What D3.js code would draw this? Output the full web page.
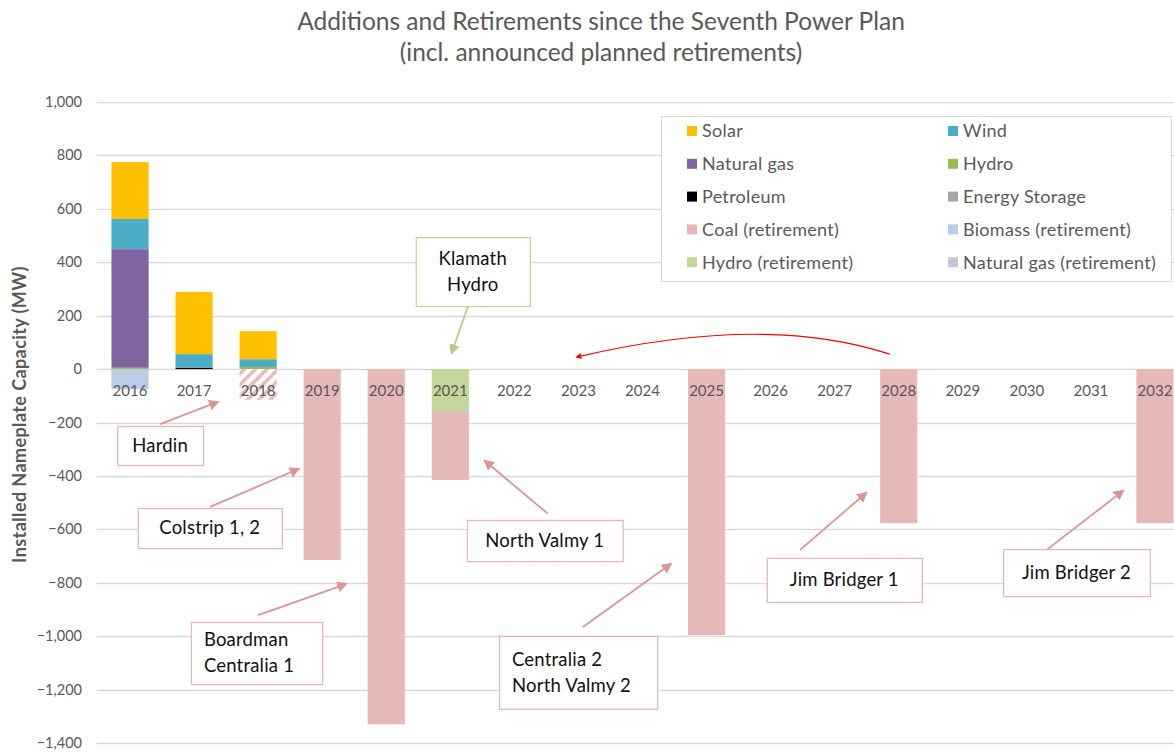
<!DOCTYPE html>
<html>
<head>
<meta charset="utf-8">
<script src="https://cdn.jsdelivr.net/npm/d3@7"></script>
<style>
  body { margin: 0; background: #fff; }
  svg { display: block; font-family: Lato, "Open Sans", sans-serif; }
</style>
</head>
<body>
<div id="chart"></div>
<script>
// years on the x axis
var years = ["2016","2017","2018","2019","2020","2021","2022","2023","2024","2025","2026","2027","2028","2029","2030","2031","2032"];

// additions (MW)
var solar         = [213, 233, 105, 0, 0, 0, 0, 0, 0, 0, 0, 0, 0, 0, 0, 0, 0];
var wind          = [113, 51, 29, 0, 0, 0, 0, 0, 0, 0, 0, 0, 0, 0, 0, 0, 0];
var naturalGas    = [444, 0, 0, 0, 0, 0, 0, 0, 0, 0, 0, 0, 0, 0, 0, 0, 0];
var hydro         = [5, 0, 8, 0, 0, 0, 0, 0, 0, 0, 0, 0, 0, 0, 0, 0, 0];
var petroleum     = [0, 5, 0, 0, 0, 0, 0, 0, 0, 0, 0, 0, 0, 0, 0, 0, 0];
var energyStorage = [0, 0, 0, 0, 0, 0, 0, 0, 0, 0, 0, 0, 0, 0, 0, 0, 0];

// retirements (MW, negative)
var coalRet       = [0, 0, -115, -715, -1330, -254, 0, 0, 0, -996, 0, 0, -577, 0, 0, 0, -577];
var biomassRet    = [-75, 0, 0, 0, 0, 0, 0, 0, 0, 0, 0, 0, 0, 0, 0, 0, 0];
var hydroRet      = [0, 0, 0, 0, 0, -161, 0, 0, 0, 0, 0, 0, 0, 0, 0, 0, 0];
var natGasRet     = [0, 0, 0, 0, 0, 0, 0, 0, 0, 0, 0, 0, 0, 0, 0, 0, 0];

// announced (hatched) retirement years
var hatchedYears = ["2018"];

var yTicks = [-1400, -1200, -1000, -800, -600, -400, -200, 0, 200, 400, 600, 800, 1000];

var seriesList = [
  {key: "Petroleum", values: petroleum, color: "#000000"},
  {key: "Hydro", values: hydro, color: "#9BBB59"},
  {key: "Natural gas", values: naturalGas, color: "#8064A2"},
  {key: "Energy Storage", values: energyStorage, color: "#A5A5A5"},
  {key: "Wind", values: wind, color: "#4BACC6"},
  {key: "Solar", values: solar, color: "#FFC000"},
  {key: "Hydro (retirement)", values: hydroRet, color: "#C4D79B"},
  {key: "Biomass (retirement)", values: biomassRet, color: "#B9CDE5"},
  {key: "Coal (retirement)", values: coalRet, color: "#E6B8B7"},
  {key: "Natural gas (retirement)", values: natGasRet, color: "#CCC1DA"}
];

var legendOrder = ["Solar", "Wind", "Natural gas", "Hydro", "Petroleum", "Energy Storage",
  "Coal (retirement)", "Biomass (retirement)", "Hydro (retirement)", "Natural gas (retirement)"];

// callouts: tip/tail/box given in (year index, MW)
var callouts = [
  {lines: ["Hardin"], box: [-0.20, -213, 1.14, -359], tail: [0.47, -206], tip: [1.37, -123], align: "middle", kind: "coal"},
  {lines: ["Colstrip 1, 2"], box: [0.12, -520, 2.37, -670], tail: [1.25, -516], tip: [2.63, -374], align: "middle", kind: "coal"},
  {lines: ["Boardman", "Centralia 1"], box: [0.95, -947, 3.0, -1179], tail: [2.0, -921], tip: [3.37, -805], align: "start", kind: "coal"},
  {lines: ["Klamath", "Hydro"], box: [4.46, 494, 6.24, 236], tail: [5.30, 251], tip: [5.02, 60], align: "middle", kind: "hydro"},
  {lines: ["North Valmy 1"], box: [5.26, -565, 7.69, -719], tail: [6.52, -541], tip: [5.54, -344], align: "middle", kind: "coal"},
  {lines: ["Centralia 2", "North Valmy 2"], box: [5.76, -999, 8.23, -1272], tail: [7.07, -966], tip: [8.44, -730], align: "start", kind: "coal"},
  {lines: ["Jim Bridger 1"], box: [9.94, -707, 12.36, -872], tail: [10.46, -677], tip: [11.49, -464], align: "middle", kind: "coal"},
  {lines: ["Jim Bridger 2"], box: [13.63, -674, 15.92, -850], tail: [14.31, -677], tip: [15.50, -456], align: "middle", kind: "coal"}
];

var W = 1174, H = 752;
var textGrey = "#595959";

var svg = d3.select("#chart").append("svg")
  .attr("width", W)
  .attr("height", H);

var defs = svg.append("defs");
var pat = defs.append("pattern")
  .attr("id", "hatch")
  .attr("patternUnits", "userSpaceOnUse")
  .attr("width", 8).attr("height", 8)
  .attr("patternTransform", "rotate(45)");
pat.append("rect").attr("width", 8).attr("height", 8).attr("fill", "#fff");
pat.append("rect").attr("width", 3.5).attr("height", 8).attr("fill", "#E6B8B7");

["coal", "hydro", "red"].forEach(function(k) {
  var c = k == "coal" ? "#D99694" : (k == "hydro" ? "#B3CC86" : "#FF0000");
  defs.append("marker")
    .attr("id", "arrow-" + k)
    .attr("viewBox", "0 0 10 10")
    .attr("refX", 8).attr("refY", 5)
    .attr("markerWidth", k == "red" ? 5 : 6)
    .attr("markerHeight", k == "red" ? 5 : 6)
    .attr("markerUnits", "strokeWidth")
    .attr("orient", "auto")
    .append("path")
    .attr("d", "M0,0 L10,5 L0,10 z")
    .attr("fill", c);
});

var x = d3.scaleBand()
  .domain(years)
  .range([98, 1187])
  .paddingInner(0.42)
  .paddingOuter(0.21);

var y = d3.scaleLinear()
  .domain([-1400, 1000])
  .range([743, 102]);

// fractional year index -> pixel
function xi(i) {
  return x(years[0]) + x.bandwidth() / 2 + i * x.step();
}

// title
var title = svg.append("text")
  .attr("text-anchor", "middle")
  .attr("fill", textGrey)
  .style("font-size", "24.5px");
title.append("tspan").attr("x", 601).attr("y", 30).text("Additions and Retirements since the Seventh Power Plan");
title.append("tspan").attr("x", 601).attr("y", 61).text("(incl. announced planned retirements)");

// gridlines
svg.append("g").selectAll("line")
  .data(yTicks)
  .enter().append("line")
  .attr("x1", 97).attr("x2", W)
  .attr("y1", function(d) { return Math.round(y(d)) + 0.5; })
  .attr("y2", function(d) { return Math.round(y(d)) + 0.5; })
  .attr("stroke", "#D9D9D9")
  .attr("stroke-width", 1.3);

// y axis labels
svg.append("g").selectAll("text")
  .data(yTicks)
  .enter().append("text")
  .attr("x", 82)
  .attr("y", function(d) { return y(d); })
  .attr("dy", "0.35em")
  .attr("text-anchor", "end")
  .attr("fill", textGrey)
  .style("font-size", "14.5px")
  .text(function(d) { return d3.format(",")(d); });

svg.append("text")
  .attr("transform", "translate(26," + y(-170) + ") rotate(-90)")
  .attr("text-anchor", "middle")
  .attr("fill", textGrey)
  .style("font-size", "18px")
  .style("letter-spacing", "0.4px")
  .style("font-weight", "bold")
  .text("Installed Nameplate Capacity (MW)");

// stacked bars
var table = years.map(function(yr, i) {
  var row = {year: yr};
  seriesList.forEach(function(s) { row[s.key] = s.values[i]; });
  return row;
});

var layers = d3.stack()
  .keys(seriesList.map(function(s) { return s.key; }))
  .offset(d3.stackOffsetDiverging)(table);

var colorOf = {};
seriesList.forEach(function(s) { colorOf[s.key] = s.color; });

var groups = svg.append("g").selectAll("g")
  .data(layers)
  .enter().append("g");

groups.selectAll("rect")
  .data(function(d) { return d.map(function(p) { p.key = d.key; return p; }); })
  .enter().append("rect")
  .filter(function(d) { return d[1] - d[0] != 0; })
  .attr("x", function(d) { return x(d.data.year); })
  .attr("width", x.bandwidth())
  .attr("y", function(d) { return y(Math.max(d[0], d[1])); })
  .attr("height", function(d) { return Math.abs(y(d[0]) - y(d[1])); })
  .attr("fill", function(d) {
    if (d.key == "Coal (retirement)" && hatchedYears.indexOf(d.data.year) >= 0) return "url(#hatch)";
    return colorOf[d.key];
  });

// year labels sit on the zero line, over the bars
svg.append("g").selectAll("text")
  .data(years)
  .enter().append("text")
  .attr("x", function(d) { return x(d) + x.bandwidth() / 2; })
  .attr("y", y(0) + 27)
  .attr("text-anchor", "middle")
  .attr("fill", textGrey)
  .style("font-size", "15px")
  .text(function(d) { return d; });

// legend
var lg = svg.append("g");
lg.append("rect")
  .attr("x", 661.5).attr("y", 116.5)
  .attr("width", 510).attr("height", 165)
  .attr("fill", "#fff")
  .attr("stroke", "#D9D9D9");

var items = lg.selectAll("g.item")
  .data(legendOrder)
  .enter().append("g")
  .attr("class", "item")
  .attr("transform", function(d, i) {
    return "translate(" + (i % 2 == 0 ? 687 : 948) + "," + (131 + Math.floor(i / 2) * 32.8) + ")";
  });

items.append("rect")
  .attr("x", 0).attr("y", -5)
  .attr("width", 10).attr("height", 10)
  .attr("fill", function(d) { return colorOf[d]; });

items.append("text")
  .attr("x", 15)
  .attr("dy", "0.35em")
  .attr("fill", textGrey)
  .style("font-size", "18px")
  .style("letter-spacing", "0.3px")
  .text(function(d) { return d; });

// callouts
var co = svg.append("g").selectAll("g")
  .data(callouts)
  .enter().append("g");

co.append("line")
  .attr("x1", function(d) { return xi(d.tail[0]); })
  .attr("y1", function(d) { return y(d.tail[1]); })
  .attr("x2", function(d) { return xi(d.tip[0]); })
  .attr("y2", function(d) { return y(d.tip[1]); })
  .attr("stroke", function(d) { return d.kind == "hydro" ? "#B3CC86" : "#D99694"; })
  .attr("stroke-width", 1.8)
  .attr("marker-end", function(d) { return "url(#arrow-" + d.kind + ")"; });

co.append("rect")
  .attr("x", function(d) { return xi(d.box[0]) + 0.5; })
  .attr("y", function(d) { return y(d.box[1]) + 0.5; })
  .attr("width", function(d) { return xi(d.box[2]) - xi(d.box[0]); })
  .attr("height", function(d) { return y(d.box[3]) - y(d.box[1]); })
  .attr("fill", "#fff")
  .attr("stroke", function(d) { return d.kind == "hydro" ? "#C4D79B" : "#E6B8B7"; })
  .attr("stroke-width", 1.3);

co.each(function(d) {
  var g = d3.select(this);
  var x0 = xi(d.box[0]), x1 = xi(d.box[2]);
  var y0 = y(d.box[1]), y1 = y(d.box[3]);
  var n = d.lines.length;
  var lh = 26;
  var cy = (y0 + y1) / 2;
  var t = g.append("text")
    .attr("text-anchor", d.align)
    .attr("fill", "#111")
    .style("font-size", "18.5px")
    .style("letter-spacing", "0.2px");
  d.lines.forEach(function(line, k) {
    t.append("tspan")
      .attr("x", d.align == "middle" ? (x0 + x1) / 2 : x0 + 13)
      .attr("y", cy + (k - (n - 1) / 2) * lh)
      .attr("dy", "0.35em")
      .text(line);
  });
});

// red curved arrow (2028 -> 2023)
var arcFrom = [11.86, 56], arcCtrl = [9.9, 210], arcTo = [6.97, 45];
svg.append("path")
  .attr("d", "M" + xi(arcFrom[0]) + "," + y(arcFrom[1]) +
    " Q" + xi(arcCtrl[0]) + "," + y(arcCtrl[1]) +
    " " + xi(arcTo[0]) + "," + y(arcTo[1]))
  .attr("fill", "none")
  .attr("stroke", "#FF0000")
  .attr("stroke-width", 1.2)
  .attr("marker-end", "url(#arrow-red)");
</script>
</body>
</html>
